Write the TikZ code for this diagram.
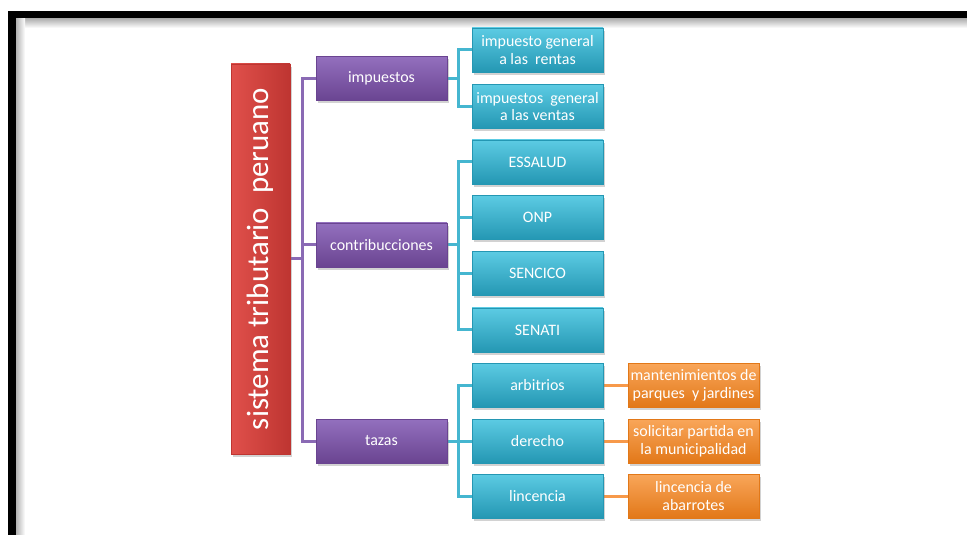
\documentclass[tikz,border=0pt]{standalone}
\usepackage{fontspec}
\setmainfont{Carlito}
\usetikzlibrary{shadows}
\definecolor{redlight}{HTML}{E0504B}
\definecolor{reddark}{HTML}{BE3531}
\definecolor{purplelight}{HTML}{9370BE}
\definecolor{purpledark}{HTML}{6A4491}
\definecolor{purpleline}{HTML}{8A6AB4}
\definecolor{cyanlight}{HTML}{5CCBE3}
\definecolor{cyandark}{HTML}{2497B3}
\definecolor{cyanline}{HTML}{45B6D0}
\definecolor{orangelight}{HTML}{F9A65A}
\definecolor{orangedark}{HTML}{E27818}
\definecolor{orangeline}{HTML}{F7994A}
\pgfdeclarelayer{background}
\pgfsetlayers{background,main}

\begin{document}
\begin{tikzpicture}[x=1bp,y=-1bp,
    box/.style={minimum width=131bp, minimum height=44bp, align=center, text=white, inner sep=1bp,
        font=\fontsize{16}{18}\selectfont,
        drop shadow={shadow xshift=2bp, shadow yshift=-3bp, opacity=.35}},
    rootbox/.style={box, rotate=90, minimum width=390bp, minimum height=59bp,
        font=\fontsize{31}{34}\selectfont, left color=redlight, right color=reddark, draw=reddark},
    purplebox/.style={box, top color=purplelight, bottom color=purpledark, draw=purpledark},
    cyanbox/.style={box, top color=cyanlight, bottom color=cyandark, draw=cyandark},
    orangebox/.style={box, top color=orangelight, bottom color=orangedark, draw=orangedark},
    plink/.style={line width=3bp, purpleline},
    clink/.style={line width=3bp, cyanline},
    olink/.style={line width=3bp, orangeline}]

\useasboundingbox (0,0) rectangle (967,535);

% root and first level
\node[rootbox] (root) at (260.5,259) {sistema tributario\ \ peruano};
\node[purplebox] (imp) at (381.5,78.5) {impuestos};
\node[purplebox] (con) at (381.5,245) {contribucciones};
\node[purplebox] (taz) at (381.5,441) {tazas};

% second level
\node[cyanbox] (ren) at (537.5,50) {impuesto general\\a las\ \ rentas};
\node[cyanbox] (ven) at (537.5,106.5) {impuestos\ \ general\\a las ventas};
\node[cyanbox] (ess) at (537.5,162) {ESSALUD};
\node[cyanbox] (onp) at (537.5,217.5) {ONP};
\node[cyanbox] (sic) at (537.5,273.5) {SENCICO};
\node[cyanbox] (sen) at (537.5,330) {SENATI};
\node[cyanbox] (arb) at (537.5,385) {arbitrios};
\node[cyanbox] (der) at (537.5,441) {derecho};
\node[cyanbox] (lic) at (537.5,496) {lincencia};

% third level
\node[orangebox] (man) at (693.5,385) {mantenimientos de\\parques\ \ y jardines};
\node[orangebox] (sol) at (693.5,441) {solicitar partida en\\la municipalidad};
\node[orangebox] (aba) at (693.5,496) {lincencia de\\abarrotes};

\coordinate (pbus) at (302,0);
\coordinate (cbus) at (458,0);

\begin{pgfonlayer}{background}
    % frame
    \fill[black] (8,11) rectangle (967,535);
    \fill[white] (16,19) rectangle (967,535);
    \shade[top color=gray!60, bottom color=white] (16,19) rectangle (967,28);
    \shade[left color=gray!60, right color=white] (16,19) rectangle (25,535);
    % purple links
    \draw[plink] (root) -- (root -| pbus);
    \draw[plink] (imp) -- (imp -| pbus) -- (taz -| pbus) -- (taz);
    \draw[plink] (con) -- (con -| pbus);
    % cyan links
    \draw[clink] (ren) -- (ren -| cbus) -- (ven -| cbus) -- (ven);
    \draw[clink] (ess) -- (ess -| cbus) -- (sen -| cbus) -- (sen);
    \draw[clink] (arb) -- (arb -| cbus) -- (lic -| cbus) -- (lic);
    \foreach \n in {imp,con,taz,onp,sic,der}
        \draw[clink] (\n) -- (\n -| cbus);
    % orange links
    \foreach \a/\b in {arb/man,der/sol,lic/aba}
        \draw[olink] (\a) -- (\b);
\end{pgfonlayer}

\end{tikzpicture}
\end{document}
